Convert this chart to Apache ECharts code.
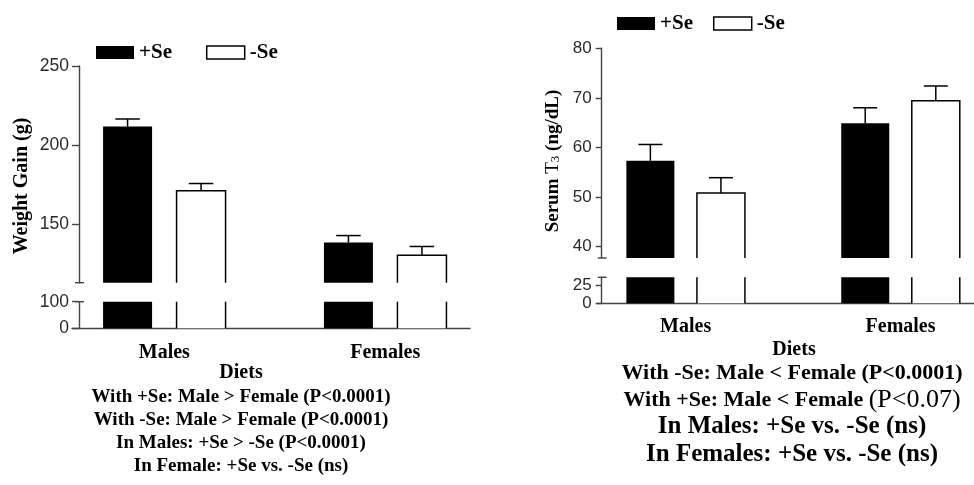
<!DOCTYPE html>
<html>
<head>
<meta charset="utf-8">
<script src="https://cdn.jsdelivr.net/npm/echarts@6/dist/echarts.min.js"></script>
<style>html,body{margin:0;padding:0;background:#fff}#c{width:974px;height:485px}</style>
</head>
<body>
<div id="c"></div>
<script>
// ---- data ----
const categories = ['Males', 'Females'];
const legendNames = ['+Se', '-Se'];
// Weight gain (g)
const weightPlusSe = [211.7, 138.4];
const weightPlusSeErr = [4.8, 4.4];
const weightMinusSe = [171.1, 130.4];
const weightMinusSeErr = [4.6, 5.5];
// Serum T3 (ng/dL)
const t3PlusSe = [57.3, 64.9];
const t3PlusSeErr = [3.3, 3.1];
const t3MinusSe = [50.8, 69.4];
const t3MinusSeErr = [3.1, 3.0];
// tick labels
const weightTicksUpper = [150, 200, 250];
const weightTicksLower = [0, 100];
const t3TicksUpper = [40, 50, 60, 70, 80];
const t3TicksLower = [0, 25];
// axis ranges (broken axes)
const weightUpperRange = [113, 250];
const weightLowerRange = [0, 100];
const t3UpperRange = [37.7, 80];
const t3LowerRange = [0, 37];
// notes
const leftNotes = ['With +Se: Male > Female (P<0.0001)', 'With -Se: Male > Female (P<0.0001)', 'In Males: +Se > -Se (P<0.0001)', 'In Female: +Se vs. -Se (ns)'];
const rightNotes = ['With -Se: Male < Female (P<0.0001)', 'With +Se: Male < Female ', '(P<0.07)', 'In Males: +Se vs. -Se (ns)', 'In Females: +Se vs. -Se (ns)'];
const xTitle = 'Diets';

// ---- style / layout ----
const SERIF = "'Liberation Serif','Times New Roman',serif";
const SANS = "'Liberation Sans',Arial,sans-serif";
const AX = '#444';
const panels = [
  { left: 72, width: 398, upTop: 66, upH: 216.7, lowTop: 301.7, lowH: 26.6, xMin: -0.418, xMax: 1.384, yShift: 7, bw: 49, gap: 0.5, tickLen: 7, labelSize: 17.5 },
  { left: 596.7, width: 377.3, upTop: 48.3, upH: 209.7, lowTop: 277.3, lowH: 26, xMin: -0.414, xMax: 1.342, yShift: 5, bw: 48, gap: 0.47, tickLen: 6, labelSize: 17 }
];
const ranges = [[weightUpperRange, weightLowerRange], [t3UpperRange, t3LowerRange]];
const ticks = [[weightTicksUpper, weightTicksLower], [t3TicksUpper, t3TicksLower]];
const plusVals = [weightPlusSe, t3PlusSe], plusErr = [weightPlusSeErr, t3PlusSeErr];
const minusVals = [weightMinusSe, t3MinusSe], minusErr = [weightMinusSeErr, t3MinusSeErr];

const grid = [], xAxis = [], yAxis = [], series = [];
panels.forEach((p, pi) => {
  [0, 1].forEach(seg => {
    const gi = pi * 2 + seg;
    grid.push({ left: p.left, width: p.width, top: seg === 0 ? p.upTop : p.lowTop, height: seg === 0 ? p.upH : p.lowH, containLabel: false });
    xAxis.push({
      type: 'value', gridIndex: gi, min: p.xMin, max: p.xMax, show: seg === 1,
      axisLine: { show: true, onZero: false, lineStyle: { color: AX, width: 1.4 } },
      axisTick: { show: false }, splitLine: { show: false },
      axisLabel: { customValues: [0, 1], formatter: v => categories[Math.round(v)] || '', margin: pi === 0 ? 15 : 14,
        color: '#000', fontFamily: SERIF, fontWeight: 'bold', fontSize: 20 }
    });
    const r = ranges[pi][seg], tk = ticks[pi][seg];
    yAxis.push({
      type: 'value', gridIndex: gi, min: r[0], max: r[1], offset: -p.yShift,
      axisLine: { show: true, onZero: false, lineStyle: { color: AX, width: 1.4 } },
      axisTick: { show: true, customValues: tk, length: p.tickLen, lineStyle: { color: AX, width: 1.4 } },
      axisLabel: { customValues: tk, margin: 10, color: '#2a2a2a', fontFamily: SANS, fontSize: p.labelSize },
      splitLine: { show: false }
    });
    series.push({ name: legendNames[0], type: 'bar', xAxisIndex: gi, yAxisIndex: gi, barWidth: p.bw, barGap: (p.gap * 100) + '%',
      itemStyle: { color: '#000' }, data: plusVals[pi].map((v, i) => [i, v]), clip: true, silent: true });
    series.push({ name: legendNames[1], type: 'bar', xAxisIndex: gi, yAxisIndex: gi, barWidth: p.bw, barGap: (p.gap * 100) + '%',
      itemStyle: { color: '#fff' }, data: minusVals[pi].map((v, i) => [i, v]), clip: true, silent: true });
    // open outline of the white bars
    series.push({ type: 'custom', name: 'outline', xAxisIndex: gi, yAxisIndex: gi, z: 4, silent: true,
      data: minusVals[pi].map((v, i) => [i, v]),
      renderItem: (params, api) => {
        const cs = params.coordSys;
        const pt = api.coord([api.value(0), api.value(1)]);
        const cx = pt[0] + p.bw * (1 + p.gap) / 2;
        const l = cx - p.bw / 2, rr = cx + p.bw / 2, bottom = cs.y + cs.height;
        const st = { stroke: '#000', lineWidth: 1.5, fill: null };
        if (pt[1] < cs.y) {
          return { type: 'group', children: [
            { type: 'line', shape: { x1: l, y1: cs.y, x2: l, y2: bottom }, style: st },
            { type: 'line', shape: { x1: rr, y1: cs.y, x2: rr, y2: bottom }, style: st }
          ] };
        }
        return { type: 'polyline', shape: { points: [[l, bottom], [l, pt[1]], [rr, pt[1]], [rr, bottom]] }, style: st };
      }
    });
    // break caps of the y axis
    series.push({ type: 'custom', name: 'cap', xAxisIndex: gi, yAxisIndex: gi, z: 4, silent: true, data: [[0]],
      renderItem: (params) => {
        const cs = params.coordSys;
        const ax = cs.x + p.yShift;
        const y = seg === 0 ? cs.y + cs.height : cs.y;
        return { type: 'line', shape: { x1: ax - 4, y1: y, x2: ax + 5, y2: y }, style: { stroke: AX, lineWidth: 1.4 } };
      }
    });
    if (seg === 0) {
      [[plusVals, plusErr, -1], [minusVals, minusErr, 1]].forEach(([vals, errs, sign]) => {
        series.push({ type: 'custom', name: 'err', xAxisIndex: gi, yAxisIndex: gi, z: 5, silent: true,
          data: vals[pi].map((v, i) => [i, v, errs[pi][i]]),
          renderItem: (params, api) => {
            const i = api.value(0), v = api.value(1), e = api.value(2);
            const p0 = api.coord([i, v]), p1 = api.coord([i, v + e]);
            const x = p0[0] + sign * p.bw * (1 + p.gap) / 2;
            const cap = p.bw / 4;
            const st = { stroke: '#000', lineWidth: 1.5 };
            return { type: 'group', children: [
              { type: 'line', shape: { x1: x, y1: p0[1], x2: x, y2: p1[1] }, style: st },
              { type: 'line', shape: { x1: x - cap, y1: p1[1], x2: x + cap, y2: p1[1] }, style: st }
            ] };
          }
        });
      });
    }
  });
});

const legendData = [
  { name: legendNames[0], itemStyle: { color: '#000' } },
  { name: legendNames[1], itemStyle: { color: '#fff', borderColor: '#000', borderWidth: 1.5 } }
];
const legendText = { color: '#000', fontFamily: SERIF, fontWeight: 'bold', fontSize: 21 };
const legend = [
  { left: 96, top: 42, padding: 0, itemWidth: 38, itemHeight: 13, itemGap: 34, icon: 'rect', selectedMode: false, data: legendData, textStyle: legendText },
  { left: 617, top: 13, padding: 0, itemWidth: 38, itemHeight: 13, itemGap: 20, icon: 'rect', selectedMode: false, data: legendData, textStyle: legendText }
];

function txt(x, y, text, size, extra) {
  return Object.assign({ type: 'text', x: x, y: y, silent: true,
    style: { text: text, fill: '#000', font: 'bold ' + size + 'px ' + SERIF, align: 'center', verticalAlign: 'middle' } }, extra || {});
}
const graphic = [
  txt(22, 186, 'Weight Gain (g)', 20, { rotation: Math.PI / 2 }),
  { type: 'text', x: 553, y: 161, rotation: Math.PI / 2, silent: true,
    style: { text: '{b|Serum }{n|T}{s|3}{b| (ng/dL)}', align: 'center', verticalAlign: 'middle', fill: '#000',
      rich: { b: { font: 'bold 19px ' + SERIF, fill: '#000', verticalAlign: 'bottom' },
              n: { font: '19px ' + SERIF, fill: '#000', verticalAlign: 'bottom' },
              s: { font: '13px ' + SERIF, fill: '#000', verticalAlign: 'bottom', padding: [6, 0, 0, 0] } } } },
  txt(241, 373, xTitle, 20),
  txt(241, 397, leftNotes[0], 19),
  txt(241, 420, leftNotes[1], 19),
  txt(241, 443, leftNotes[2], 19),
  txt(241, 466, leftNotes[3], 19),
  txt(794, 350, xTitle, 20),
  txt(792, 373, rightNotes[0], 22),
  { type: 'text', x: 792, y: 400, silent: true,
    style: { text: '{a|' + rightNotes[1] + '}{p|' + rightNotes[2] + '}', align: 'center', verticalAlign: 'middle', fill: '#000',
      rich: { a: { font: 'bold 22px ' + SERIF, fill: '#000' }, p: { font: '26px ' + SERIF, fill: '#000' } } } },
  txt(792, 427, rightNotes[3], 25),
  txt(792, 455, rightNotes[4], 25)
];

const chart = echarts.init(document.getElementById('c'), null, { renderer: 'canvas' });
chart.setOption({ animation: false, backgroundColor: '#fff', grid, xAxis, yAxis, legend, series, graphic });
</script>
</body>
</html>
